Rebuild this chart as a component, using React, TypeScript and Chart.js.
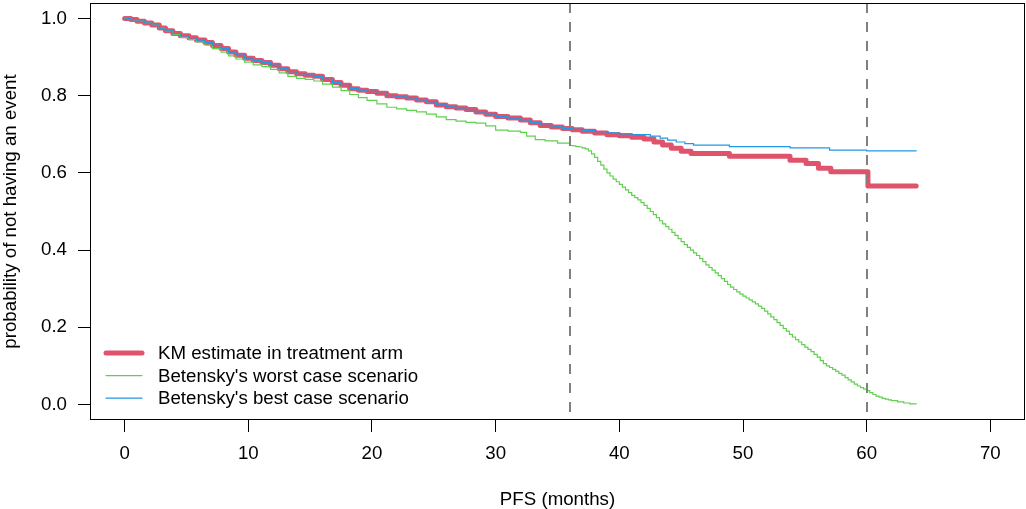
import React, { useEffect, useRef } from 'react';
import { Chart, registerables } from 'chart.js';

Chart.register(...registerables);

// ---- Data ----
const kmTime = [0, 0.5, 1.0, 1.6, 2.2, 2.8, 3.3, 3.9, 4.5, 5.2, 5.8, 6.5, 7.1, 7.8, 8.4, 9.0, 9.7, 10.4, 11.1, 11.8, 12.5, 13.2, 13.9, 14.6, 15.3, 16.0, 16.8, 17.5, 18.2, 18.9, 19.6, 20.4, 21.2, 22.0, 22.8, 23.6, 24.4, 25.2, 26.0, 26.8, 27.6, 28.4, 29.2, 30.0, 31.0, 32.0, 32.8, 33.6, 34.5, 35.4, 36.2, 37.0, 38.0, 39.0, 40.0, 41.0, 42.0, 42.8, 43.5, 44.2, 45.0, 45.8, 48.9, 53.8, 55.1, 56.1, 57.1, 60.1, 64.0];
const kmSurv = [1.0, 0.997, 0.993, 0.988, 0.983, 0.975, 0.968, 0.961, 0.955, 0.95, 0.944, 0.938, 0.93, 0.922, 0.913, 0.905, 0.897, 0.891, 0.886, 0.879, 0.87, 0.862, 0.857, 0.853, 0.85, 0.842, 0.834, 0.827, 0.818, 0.814, 0.811, 0.806, 0.8, 0.797, 0.794, 0.789, 0.784, 0.776, 0.771, 0.768, 0.764, 0.758, 0.752, 0.746, 0.742, 0.737, 0.73, 0.723, 0.719, 0.715, 0.712, 0.708, 0.703, 0.699, 0.696, 0.692, 0.688, 0.68, 0.672, 0.664, 0.656, 0.65, 0.643, 0.633, 0.624, 0.612, 0.603, 0.566, 0.566];

const bestTime = [0, 0.5, 1.0, 1.6, 2.2, 2.8, 3.3, 3.9, 4.5, 5.2, 5.8, 6.5, 7.1, 7.8, 8.4, 9.0, 9.7, 10.4, 11.1, 11.8, 12.5, 13.2, 13.9, 14.6, 15.3, 16.0, 16.8, 17.5, 18.2, 18.9, 19.6, 20.4, 21.2, 22.0, 22.8, 23.6, 24.4, 25.2, 26.0, 26.8, 27.6, 28.4, 29.2, 30.0, 31.0, 32.0, 32.8, 33.6, 34.5, 35.4, 36.2, 37.0, 38.0, 39.0, 40.0, 41.0, 42.5, 43.3, 43.9, 44.6, 45.3, 46.0, 48.9, 53.8, 57.0, 60.0, 64.0];
const bestSurv = [1.0, 0.997, 0.993, 0.988, 0.983, 0.975, 0.968, 0.961, 0.955, 0.95, 0.944, 0.938, 0.93, 0.922, 0.913, 0.905, 0.897, 0.891, 0.886, 0.879, 0.87, 0.862, 0.857, 0.853, 0.85, 0.842, 0.834, 0.827, 0.818, 0.814, 0.811, 0.806, 0.8, 0.797, 0.794, 0.789, 0.784, 0.776, 0.771, 0.768, 0.764, 0.758, 0.752, 0.746, 0.742, 0.737, 0.73, 0.723, 0.719, 0.715, 0.713, 0.71, 0.707, 0.704, 0.701, 0.699, 0.695, 0.69, 0.685, 0.68, 0.676, 0.672, 0.668, 0.665, 0.659, 0.657, 0.656];

const worstTime = [0, 0.5, 1.0, 1.6, 2.2, 2.8, 3.3, 3.9, 4.5, 5.2, 5.8, 6.5, 7.1, 7.8, 8.4, 9.0, 9.7, 10.4, 11.1, 11.8, 12.5, 13.2, 13.9, 14.6, 15.3, 16.0, 16.8, 17.5, 18.2, 18.9, 19.6, 20.4, 21.2, 22.0, 22.8, 23.6, 24.4, 25.2, 26.0, 26.8, 27.6, 28.4, 29.2, 30.0, 31.0, 32.0, 32.5, 33.2, 34.0, 35.0,
  36.0, 36.25, 36.5, 36.75, 37.0, 37.25, 37.5, 37.75, 38.0, 38.25, 38.5, 38.75, 39.0, 39.25, 39.5, 39.75,
  40.0, 40.25, 40.5, 40.75, 41.0, 41.25, 41.5, 41.75, 42.0, 42.25, 42.5, 42.75, 43.0, 43.25, 43.5, 43.75,
  44.0, 44.25, 44.5, 44.75, 45.0, 45.25, 45.5, 45.75, 46.0, 46.25, 46.5, 46.75, 47.0, 47.25, 47.5, 47.75,
  48.0, 48.25, 48.5, 48.75, 49.0, 49.25, 49.5, 49.75, 50.0, 50.25, 50.5, 50.75, 51.0, 51.25, 51.5, 51.75,
  52.0, 52.25, 52.5, 52.75, 53.0, 53.25, 53.5, 53.75, 54.0, 54.25, 54.5, 54.75, 55.0, 55.25, 55.5, 55.75,
  56.0, 56.25, 56.5, 56.75, 57.0, 57.25, 57.5, 57.75, 58.0, 58.25, 58.5, 58.75, 59.0, 59.25, 59.5, 59.75,
  60.0, 60.25, 60.5, 60.75, 61.0, 61.25, 61.5, 61.75, 62.0, 62.5, 63.0, 63.5, 64.0];
const worstSurv = [1.0, 0.997, 0.993, 0.988, 0.983, 0.975, 0.967, 0.958, 0.951, 0.945, 0.939, 0.931, 0.922, 0.913, 0.903, 0.895, 0.887, 0.88, 0.875, 0.868, 0.859, 0.85, 0.845, 0.842, 0.838, 0.83, 0.822, 0.813, 0.803, 0.795, 0.788, 0.779, 0.77, 0.766, 0.762, 0.758, 0.752, 0.745, 0.738, 0.734, 0.731, 0.729, 0.722, 0.711, 0.708, 0.705, 0.695, 0.686, 0.683, 0.677,
  0.671, 0.67, 0.668, 0.667, 0.665, 0.662, 0.657, 0.649, 0.64, 0.63, 0.62, 0.61, 0.6, 0.592, 0.584, 0.577,
  0.57, 0.563, 0.556, 0.549, 0.542, 0.536, 0.53, 0.523, 0.516, 0.508, 0.5, 0.492, 0.484, 0.476, 0.468, 0.461,
  0.454, 0.446, 0.438, 0.43, 0.422, 0.414, 0.407, 0.4, 0.393, 0.386, 0.378, 0.37, 0.362, 0.355, 0.348, 0.341,
  0.334, 0.326, 0.319, 0.311, 0.304, 0.298, 0.292, 0.286, 0.281, 0.276, 0.271, 0.266, 0.261, 0.255, 0.249, 0.242,
  0.235, 0.227, 0.22, 0.212, 0.205, 0.197, 0.19, 0.182, 0.175, 0.168, 0.162, 0.155, 0.149, 0.143, 0.137, 0.13,
  0.123, 0.114, 0.106, 0.1, 0.096, 0.091, 0.086, 0.081, 0.076, 0.07, 0.064, 0.059, 0.053, 0.048, 0.044, 0.04,
  0.036, 0.031, 0.026, 0.022, 0.019, 0.016, 0.014, 0.012, 0.01, 0.007, 0.004, 0.002, 0.001];

const xTicks = [0, 10, 20, 30, 40, 50, 60, 70];
const yTicks = [0, 0.2, 0.4, 0.6, 0.8, 1.0];
const yTickLabels = ['0.0', '0.2', '0.4', '0.6', '0.8', '1.0'];
const refLines = [36, 60];

const seriesNames = ['KM estimate in treatment arm', "Betensky's worst case scenario", "Betensky's best case scenario"];
const seriesColors = ['#DF536B', '#61D04F', '#2297E6'];
const seriesWidths = [5, 1.2, 1.2];

const FONT = '"Liberation Sans", Arial, Helvetica, sans-serif';
const FONT_SIZE = 18.7;

const toPoints = (t: number[], s: number[]) => t.map((x, i) => ({ x, y: s[i] }));

const overlayPlugin = {
  id: 'overlay',
  afterDatasetsDraw(chart: any) {
    const { ctx, chartArea, scales } = chart;
    ctx.save();
    ctx.strokeStyle = '#808080';
    ctx.lineWidth = 2;
    ctx.setLineDash([10, 9]);
    refLines.forEach((v) => {
      const px = Math.round(scales.x.getPixelForValue(v));
      ctx.beginPath();
      ctx.moveTo(px, chartArea.top);
      ctx.lineTo(px, chartArea.bottom);
      ctx.stroke();
    });
    ctx.restore();
  },
  afterDraw(chart: any) {
    const { ctx, chartArea } = chart;
    ctx.save();
    // box
    ctx.strokeStyle = '#000';
    ctx.lineWidth = 1;
    ctx.strokeRect(chartArea.left + 0.5, chartArea.top + 0.5, chartArea.right - chartArea.left - 1, chartArea.bottom - chartArea.top - 1);
    // legend
    const lx0 = chartArea.left + 16;
    const lx1 = chartArea.left + 52;
    const tx = chartArea.left + 68;
    const y0 = chartArea.bottom - 67;
    const dy = 22.6;
    ctx.font = `${FONT_SIZE}px ${FONT}`;
    ctx.textBaseline = 'middle';
    ctx.textAlign = 'left';
    seriesNames.forEach((name, i) => {
      const y = y0 + i * dy;
      ctx.strokeStyle = seriesColors[i];
      ctx.lineWidth = seriesWidths[i];
      ctx.lineCap = 'round';
      ctx.beginPath();
      ctx.moveTo(lx0, y);
      ctx.lineTo(lx1, y);
      ctx.stroke();
      ctx.fillStyle = '#000';
      ctx.fillText(name, tx, y + 1);
    });
    ctx.restore();
  },
};

export default function App() {
  const canvasRef = useRef<HTMLCanvasElement | null>(null);

  useEffect(() => {
    document.body.style.margin = '0';
    const canvas = canvasRef.current;
    if (!canvas) return;
    const chart = new Chart(canvas, {
      type: 'line',
      data: {
        datasets: [
          {
            label: seriesNames[0],
            data: toPoints(kmTime, kmSurv),
            borderColor: seriesColors[0],
            borderWidth: seriesWidths[0],
            stepped: 'before',
            pointRadius: 0,
            fill: false,
            borderCapStyle: 'round',
            borderJoinStyle: 'round',
            order: 2,
          },
          {
            label: seriesNames[1],
            data: toPoints(worstTime, worstSurv),
            borderColor: seriesColors[1],
            borderWidth: seriesWidths[1],
            stepped: 'before',
            pointRadius: 0,
            fill: false,
            order: 1,
          },
          {
            label: seriesNames[2],
            data: toPoints(bestTime, bestSurv),
            borderColor: seriesColors[2],
            borderWidth: seriesWidths[2],
            stepped: 'before',
            pointRadius: 0,
            fill: false,
            order: 0,
          },
        ],
      },
      options: {
        responsive: false,
        animation: false,
        devicePixelRatio: 1,
        layout: { padding: { top: 3, right: 1, left: 0, bottom: 0 } },
        plugins: { legend: { display: false }, tooltip: { enabled: false } },
        scales: {
          x: {
            type: 'linear',
            min: -2.8,
            max: 72.8,
            afterBuildTicks: (s: any) => {
              s.ticks = xTicks.map((v) => ({ value: v }));
            },
            afterFit: (s: any) => {
              s.height = 89;
              s.paddingLeft = 0;
              s.paddingRight = 0;
            },
            grid: { drawOnChartArea: false, drawTicks: true, tickLength: 12, color: '#000', lineWidth: 1 },
            border: { display: false },
            ticks: {
              color: '#000',
              font: { family: FONT, size: FONT_SIZE },
              padding: 11,
              maxRotation: 0,
              autoSkip: false,
              callback: (v: any) => String(v),
            },
            title: {
              display: true,
              text: 'PFS (months)',
              color: '#000',
              font: { family: FONT, size: FONT_SIZE, lineHeight: 1 },
              padding: { top: 0, bottom: 0 },
            },
          },
          y: {
            type: 'linear',
            min: -0.04,
            max: 1.04,
            afterBuildTicks: (s: any) => {
              s.ticks = yTicks.map((v) => ({ value: v }));
            },
            afterFit: (s: any) => {
              s.width = 90;
              s.paddingTop = 0;
              s.paddingBottom = 0;
            },
            grid: { drawOnChartArea: false, drawTicks: true, tickLength: 12, color: '#000', lineWidth: 1 },
            border: { display: false },
            ticks: {
              color: '#000',
              font: { family: FONT, size: FONT_SIZE },
              padding: 11,
              autoSkip: false,
              callback: (_v: any, i: number) => yTickLabels[i],
            },
            title: {
              display: true,
              text: 'probability of not having an event',
              color: '#000',
              font: { family: FONT, size: FONT_SIZE },
              padding: { top: 0, bottom: 0 },
            },
          },
        },
      },
      plugins: [overlayPlugin],
    } as any);
    return () => chart.destroy();
  }, []);

  return (
    <div style={{ position: 'fixed', left: 0, top: 0, width: 1026, height: 509, background: '#fff' }}>
      <canvas ref={canvasRef} width={1026} height={509} style={{ display: 'block' }} />
    </div>
  );
}
